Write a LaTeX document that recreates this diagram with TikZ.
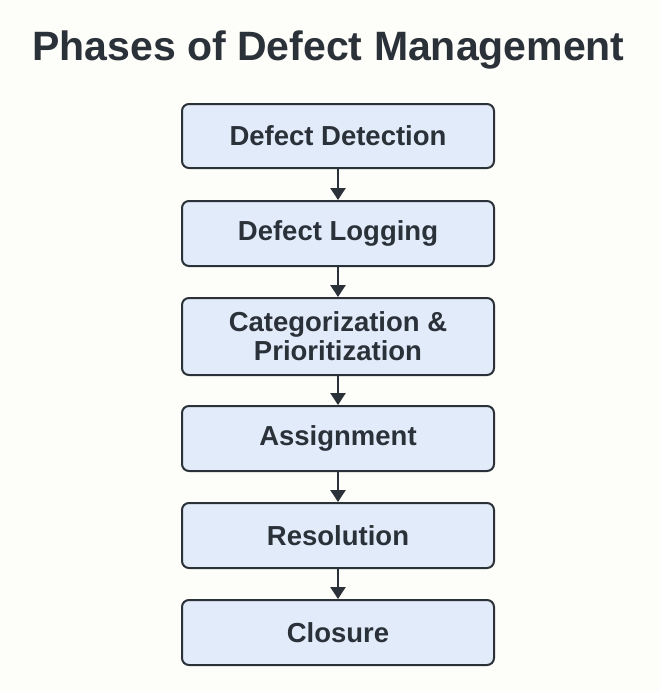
\documentclass[tikz,border=0pt]{standalone}
\usepackage{fontspec}
\setmainfont{Liberation Sans}
\usetikzlibrary{arrows.meta}
\definecolor{bg}{HTML}{FDFDF9}
\definecolor{boxfill}{HTML}{E2EBFA}
\definecolor{ink}{HTML}{2B3138}
\tikzset{
  phase/.style={draw=ink, line width=2pt, fill=boxfill, rounded corners=7pt,
    minimum width=312pt, inner sep=0pt, align=center, text=ink,
    font=\fontsize{27.5}{29}\selectfont\bfseries},
  flow/.style={draw=ink, line width=2.6pt, -{Triangle[length=12pt,width=15pt]}}
}
\begin{document}
\begin{tikzpicture}[x=1pt,y=-1pt]
\fill[bg] (0,0) rectangle (660,691);
\useasboundingbox (0,0) rectangle (660,691);
\node[text=ink, font=\fontsize{41}{46}\selectfont\bfseries, anchor=base, inner sep=0pt] (title) at (328.5,60) {Phases of Defect Management};
\node[phase, minimum height=64pt] (p1) at (338,136) {Defect Detection};
\node[phase, minimum height=65pt] (p2) at (338,233.5) {Defect Logging};
\node[phase, minimum height=77pt] (p3) at (338,336.5) {Categorization \&\\Prioritization};
\node[phase, minimum height=65pt] (p4) at (338,438.5) {Assignment};
\node[phase, minimum height=65pt] (p5) at (338,535.5) {Resolution};
\node[phase, minimum height=65pt] (p6) at (338,632.5) {Closure};
\draw[flow] (p1) -- (p2);
\draw[flow] (p2) -- (p3);
\draw[flow] (p3) -- (p4);
\draw[flow] (p4) -- (p5);
\draw[flow] (p5) -- (p6);
\end{tikzpicture}
\end{document}
